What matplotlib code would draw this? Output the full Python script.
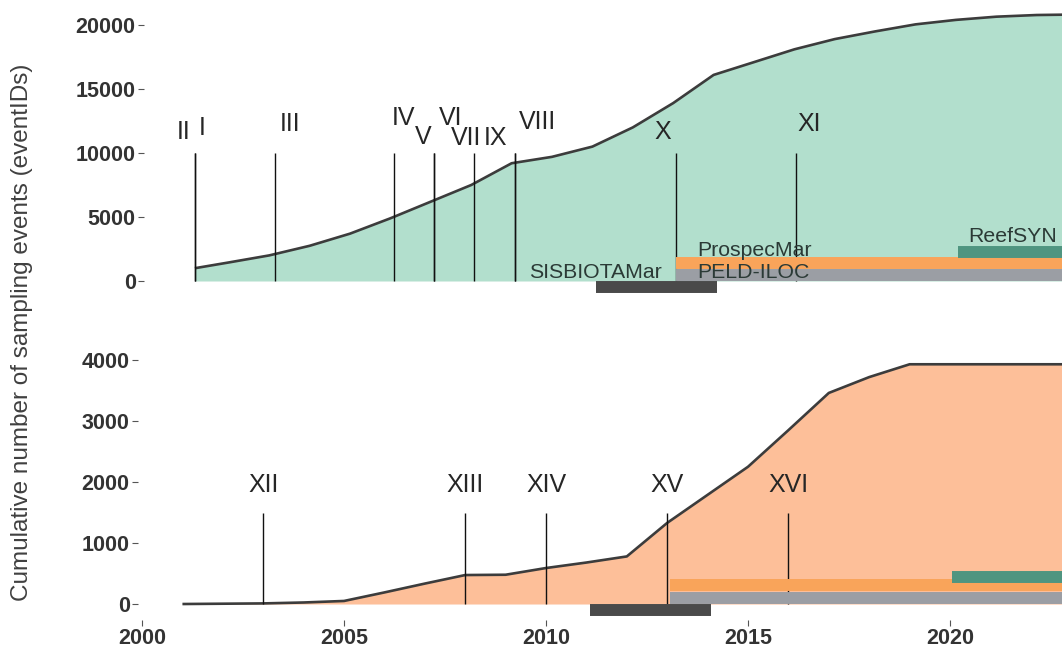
import numpy as np
import matplotlib
matplotlib.use('Agg')
import matplotlib.pyplot as plt

plt.rcParams['font.family'] = ['Liberation Sans', 'DejaVu Sans']

# cumulative sampling events, upper series
years_a = [2001.16, 2002, 2003, 2004, 2005, 2006, 2007, 2008, 2009, 2010, 2011, 2012,
           2013, 2014, 2015, 2016, 2017, 2018, 2019, 2020, 2021, 2022, 2023]
events_a = [1000, 1450, 2000, 2750, 3700, 4900, 6200, 7500, 9200, 9700, 10500, 12000,
            13900, 16100, 17100, 18100, 18900, 19500, 20050, 20400, 20650, 20780, 20820]

# cumulative sampling events, lower series
years_b = [2001, 2002, 2003, 2004, 2005, 2006, 2007, 2008, 2009, 2010, 2011, 2012,
           2013, 2014, 2015, 2016, 2017, 2018, 2019, 2020, 2021, 2022, 2023]
events_b = [0, 5, 10, 25, 50, 190, 335, 475, 480, 590, 680, 780,
            1330, 1790, 2250, 2850, 3460, 3720, 3930, 3930, 3930, 3930, 3930]

# milestones (roman numerals) and when they happened
marks_a = ['I', 'II', 'III', 'IV', 'V', 'VI', 'VII', 'IX', 'VIII', 'X', 'XI']
mark_years_a = [2001.16, 2001.16, 2003.14, 2006.09, 2007.08, 2007.08, 2008.08,
                2009.08, 2009.08, 2013.06, 2016.04]
marks_b = ['XII', 'XIII', 'XIV', 'XV', 'XVI']
mark_years_b = [2003.0, 2008.0, 2010.0, 2013.0, 2016.0]

# projects funding the data collection
projects = ['SISBIOTAMar', 'PELD-ILOC', 'ProspecMar', 'ReefSYN']
proj_start = [2011.1, 2013.06, 2013.06, 2020.04]
proj_end = [2014.08, 2023, 2023, 2023]
proj_colors = ['#4a4a4a', '#9b9ea4', '#f9a45a', '#4f9580']

# label placement (x, y) for the upper panel numerals
label_pos_a = [(2001.33, 11950), (2000.87, 11640), (2003.52, 12270), (2006.33, 12750),
               (2006.82, 11250), (2007.49, 12750), (2007.87, 11170), (2008.61, 11170),
               (2009.63, 12420), (2012.73, 11640), (2016.37, 12270)]
# bar heights in each panel (data units)
bar_y_a = [-470, 470, 1400, 2270]
bar_y_b = [-100, 100, 310, 440]

W, H = 1062, 651
fig = plt.figure(figsize=(W / 100, H / 100), dpi=100)

ax_b = fig.add_axes([138 / W, (H - 620) / H, (W - 138) / W, 275 / H])
ax_a = fig.add_axes([144 / W, (H - 300) / H, (W - 144) / W, 292 / H])

ax_a.set_xlim(1999.9, 2000 + (W - 148) / 40.4)
ax_a.set_ylim(-1484, 21328)
ax_b.set_xlim(1999.9, 2000 + (W - 142) / 40.4)
ax_b.set_ylim(-262, 4246)

line_col = '#3c3c3c'

# upper panel
ax_a.fill_between(years_a, events_a, 0, color='#b2dfcd', lw=0)
ax_a.plot(years_a, events_a, color=line_col, lw=1.9, solid_capstyle='butt')
ax_a.vlines(mark_years_a, 0, 10000, color='#111111', lw=1.0)
for name, s, e, c, y in zip(projects, proj_start, proj_end, proj_colors, bar_y_a):
    ax_a.hlines(y, s, e, color=c, lw=8.6, capstyle='butt')
for name, (x, y) in zip(marks_a, label_pos_a):
    ax_a.text(x, y, name, fontsize=18, color='#262626', ha='center', va='center')

txt_col = '#2b3a36'
ax_a.text(2012.72, 700, 'SISBIOTAMar', fontsize=15.3, color=txt_col, ha='right', va='center')
ax_a.text(2013.59, 2420, 'ProspecMar', fontsize=15.3, color=txt_col, ha='left', va='center')
ax_a.text(2013.59, 700, 'PELD-ILOC', fontsize=15.3, color=txt_col, ha='left', va='center')
ax_a.text(2020.3, 3440, 'ReefSYN', fontsize=15.3, color=txt_col, ha='left', va='center')

# lower panel
ax_b.fill_between(years_b, events_b, 0, color='#fdbf99', lw=0)
ax_b.plot(years_b, events_b, color=line_col, lw=1.9, solid_capstyle='butt')
ax_b.vlines(mark_years_b, 0, 1500, color='#111111', lw=1.0)
for name, s, e, c, y in zip(projects, proj_start, proj_end, proj_colors, bar_y_b):
    ax_b.hlines(y, s, e, color=c, lw=8.6, capstyle='butt')
for name, x in zip(marks_b, mark_years_b):
    ax_b.text(x, 1950, name, fontsize=18, color='#262626', ha='center', va='center')

# axes styling
for ax in (ax_a, ax_b):
    for sp in ax.spines.values():
        sp.set_visible(False)
    ax.tick_params(axis='y', length=4, width=0.8, color='#555555', pad=2,
                   labelsize=15.5, labelcolor='#333333')

ax_a.set_yticks([0, 5000, 10000, 15000, 20000])
ax_a.set_xticks([])
ax_b.set_yticks([0, 1000, 2000, 3000, 4000])
ax_b.set_xticks([2000, 2005, 2010, 2015, 2020])
ax_b.tick_params(axis='x', length=4, width=0.8, color='#555555', pad=2,
                 labelsize=15.5, labelcolor='#333333')
for ax in (ax_a, ax_b):
    for lab in ax.get_xticklabels() + ax.get_yticklabels():
        lab.set_fontweight('bold')

fig.text(22 / W, 1 - 332 / H, 'Cumulative number of sampling events (eventIDs)',
         rotation=90, ha='center', va='center', fontsize=17.5, color='#404040')

fig.savefig('out.png', dpi=100)
